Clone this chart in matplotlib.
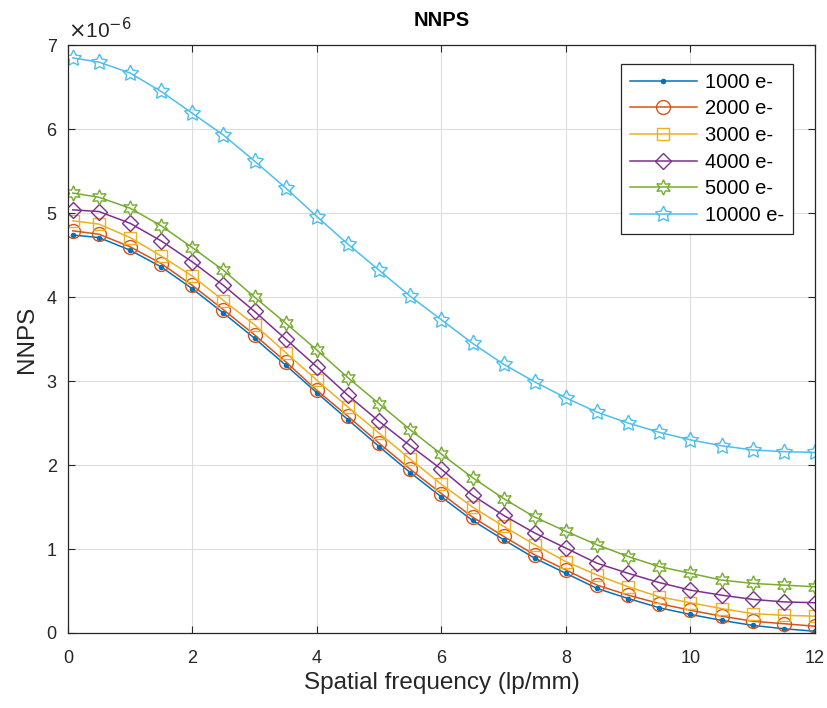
import numpy as np
import matplotlib.pyplot as plt

plt.rcParams['font.family'] = ['Liberation Sans', 'DejaVu Sans']

# spatial frequency (lp/mm)
freq = [0.08, 0.5, 1.0, 1.5, 2.0, 2.5, 3.0, 3.5, 4.0, 4.5, 5.0, 5.5, 6.0,
        6.5, 7.0, 7.5, 8.0, 8.5, 9.0, 9.5, 10.0, 10.5, 11.0, 11.5, 12.0]

# NNPS values in units of 1e-6
nnps_1000 = [4.74, 4.71, 4.56, 4.36, 4.10, 3.81, 3.51, 3.19, 2.86, 2.54, 2.22, 1.91, 1.62,
             1.34, 1.11, 0.89, 0.71, 0.53, 0.41, 0.30, 0.22, 0.15, 0.09, 0.05, 0.02]
nnps_2000 = [4.79, 4.75, 4.60, 4.40, 4.14, 3.85, 3.55, 3.23, 2.89, 2.58, 2.26, 1.95, 1.66,
             1.38, 1.15, 0.93, 0.75, 0.57, 0.45, 0.35, 0.27, 0.20, 0.14, 0.11, 0.08]
nnps_3000 = [4.91, 4.87, 4.71, 4.49, 4.25, 3.96, 3.67, 3.34, 3.01, 2.69, 2.38, 2.07, 1.77,
             1.50, 1.27, 1.05, 0.85, 0.69, 0.55, 0.43, 0.36, 0.29, 0.23, 0.21, 0.20]
nnps_4000 = [5.04, 5.02, 4.88, 4.67, 4.42, 4.14, 3.83, 3.50, 3.17, 2.83, 2.52, 2.23, 1.95,
             1.64, 1.40, 1.19, 1.01, 0.83, 0.71, 0.60, 0.51, 0.45, 0.40, 0.37, 0.36]
nnps_5000 = [5.24, 5.19, 5.06, 4.85, 4.59, 4.32, 4.00, 3.69, 3.37, 3.04, 2.73, 2.42, 2.13,
             1.85, 1.60, 1.38, 1.21, 1.05, 0.91, 0.79, 0.71, 0.63, 0.59, 0.57, 0.55]
nnps_10000 = [6.85, 6.80, 6.67, 6.45, 6.19, 5.93, 5.62, 5.30, 4.96, 4.63, 4.32, 4.01, 3.73,
              3.45, 3.20, 2.99, 2.80, 2.63, 2.50, 2.39, 2.30, 2.23, 2.18, 2.16, 2.15]

labels = ['1000 e-', '2000 e-', '3000 e-', '4000 e-', '5000 e-', '10000 e-']

series = [nnps_1000, nnps_2000, nnps_3000, nnps_4000, nnps_5000, nnps_10000]
colors = ['#0072BD', '#D95319', '#EDB120', '#7E2F8E', '#77AC30', '#4DBEEE']
markers = ['.', 'o', 's', 'D', (6, 1, 0), (5, 1, 0)]
msizes = [6, 10, 8, 8.5, 11, 12]

fig = plt.figure(figsize=(8.27, 7.08), dpi=100)
ax = fig.add_axes([0.082, 0.106, 0.9035, 0.830])

for y, c, m, ms, lab in zip(series, colors, markers, msizes, labels):
    ax.plot(freq, y, color=c, marker=m, markersize=ms, markerfacecolor='none' if m != '.' else c,
            markeredgewidth=1.0, linewidth=1.1, label=lab)

ax.set_xlim(0, 12)
ax.set_ylim(0, 7)
ax.set_xticks(range(0, 13, 2))
ax.set_yticks(range(0, 8))
ax.grid(True, color='#dcdcdc', linewidth=0.8)
ax.set_axisbelow(True)
ax.tick_params(direction='in', top=True, right=True, labelsize=13, colors='#262626', length=5)
ax.tick_params(axis='x', pad=12)
ax.tick_params(axis='y', pad=8)
for s in ax.spines.values():
    s.set_color('#262626')
    s.set_linewidth(0.9)

ax.set_xlabel('Spatial frequency (lp/mm)', fontsize=17.5, color='#262626', labelpad=4)
ax.set_ylabel('NNPS', fontsize=17.5, color='#262626', labelpad=6)
ax.set_title('NNPS', fontsize=14.5, fontweight='bold', pad=14)
ax.text(0.0, 1.006, r'$\times$10$^{-6}$', transform=ax.transAxes, fontsize=15,
        color='#262626', va='bottom', ha='left')

leg = ax.legend(loc='upper right', bbox_to_anchor=(0.9705, 0.969), borderaxespad=0,
                fontsize=14.5, fancybox=False, edgecolor='#262626', framealpha=1,
                handlelength=3.3, borderpad=0.45, labelspacing=0.38, handletextpad=0.4)
leg.get_frame().set_linewidth(0.9)

fig.savefig('out.png', dpi=100)
